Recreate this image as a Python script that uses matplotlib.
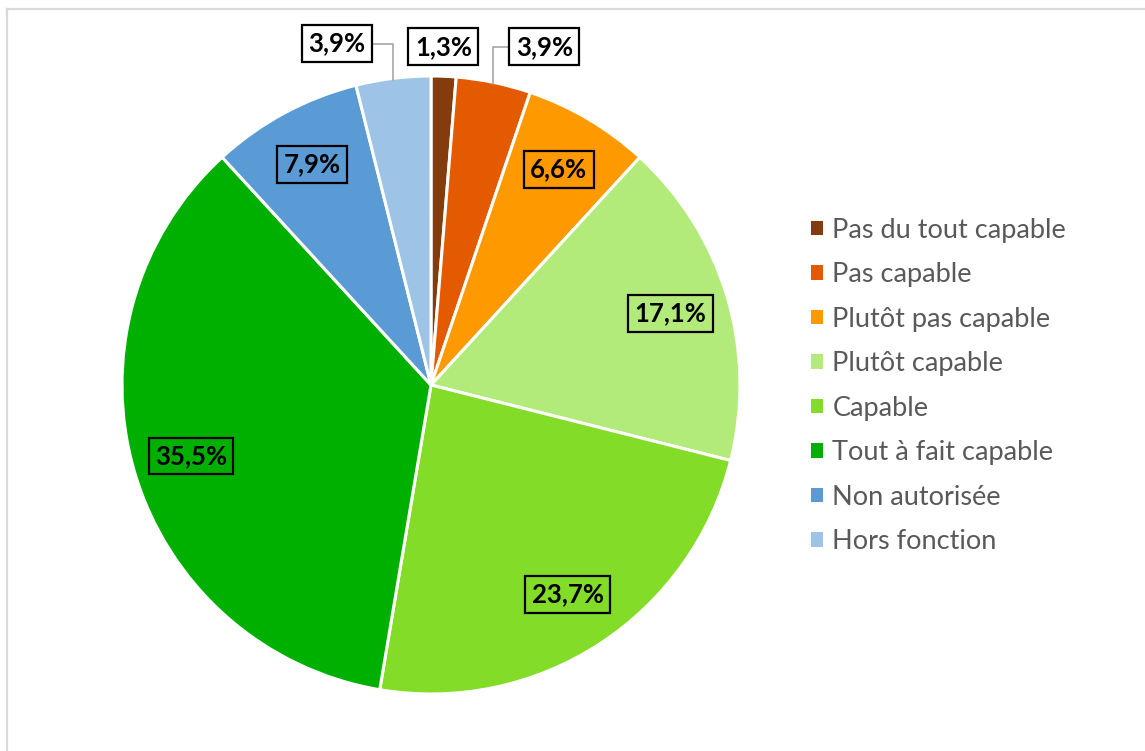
import numpy as np
import matplotlib.pyplot as plt
from matplotlib.lines import Line2D

plt.rcParams['font.family'] = ['Lato', 'DejaVu Sans']

# données
categories = ["Pas du tout capable", "Pas capable", "Plutôt pas capable", "Plutôt capable",
              "Capable", "Tout à fait capable", "Non autorisée", "Hors fonction"]
valeurs = [1.3, 3.9, 6.6, 17.1, 23.7, 35.5, 7.9, 3.9]
etiquettes = ["1,3%", "3,9%", "6,6%", "17,1%", "23,7%", "35,5%", "7,9%", "3,9%"]
couleurs = ["#843C0C", "#E35A00", "#FF9900", "#B3EB7B", "#82DC28", "#00B000", "#5B9BD5", "#9DC3E6"]

W, H = 1145, 751
fig = plt.figure(figsize=(W / 100, H / 100), dpi=100)

# cadre gris clair
fig.add_artist(Line2D([7 / W, 1], [1 - 9 / H, 1 - 9 / H], color="#D9D9D9", lw=1.6))
fig.add_artist(Line2D([7 / W, 7 / W], [0, 1 - 9 / H], color="#D9D9D9", lw=1.6))

cx, cy, r = 431, 385, 309
ax = fig.add_axes([(cx - r) / W, (H - cy - r) / H, 2 * r / W, 2 * r / H])

wedges, _ = ax.pie(valeurs, colors=couleurs, startangle=90, counterclock=False,
                   wedgeprops=dict(edgecolor="white", linewidth=2.2))
ax.set_xlim(-1, 1)
ax.set_ylim(-1, 1)
ax.set_aspect("equal")
ax.axis("off")

fs_lab = 18.5
# étiquettes : à l'intérieur pour les grandes parts, à l'extérieur pour les petites
dehors = {0: (0.04, 1.095), 1: (0.367, 1.095), 7: (-0.305, 1.105)}
for i, w in enumerate(wedges):
    ang = np.deg2rad((w.theta1 + w.theta2) / 2)
    if i in dehors:
        tx, ty = dehors[i]
        props = dict(boxstyle="square,pad=0.25", fc="white", ec="black", lw=1.6)
        if i == 0:
            ax.text(tx, ty, etiquettes[i], ha="center", va="center", fontsize=fs_lab,
                    fontweight="bold", bbox=props, zorder=5)
        else:
            ex, ey = 0.995 * np.cos(ang), 0.995 * np.sin(ang)
            ax.annotate(etiquettes[i], xy=(ex, ey), xytext=(tx, ty),
                        ha="center", va="center", fontsize=fs_lab, fontweight="bold",
                        bbox=props, zorder=5,
                        arrowprops=dict(arrowstyle="-", color="#A6A6A6", lw=1.2,
                                        shrinkA=0, shrinkB=0,
                                        connectionstyle="angle,angleA=0,angleB=90,rad=0"))
    else:
        rr = 0.81
        ax.text(rr * np.cos(ang), rr * np.sin(ang), etiquettes[i], ha="center", va="center",
                fontsize=fs_lab, fontweight="bold",
                bbox=dict(boxstyle="square,pad=0.25", fc="none", ec="black", lw=1.6))

# légende
poignees = [plt.Rectangle((0, 0), 1, 1, fc=c, ec="none") for c in couleurs]
leg = fig.legend(poignees, categories, loc="upper left", bbox_to_anchor=(789 / W, 1 - 196 / H),
                 frameon=False, fontsize=19.5, handlelength=0.45, handleheight=0.45,
                 handletextpad=0.35, labelspacing=0.72, borderpad=0.3)
for t in leg.get_texts():
    t.set_color("#595959")

fig.savefig("out.png", dpi=100)
